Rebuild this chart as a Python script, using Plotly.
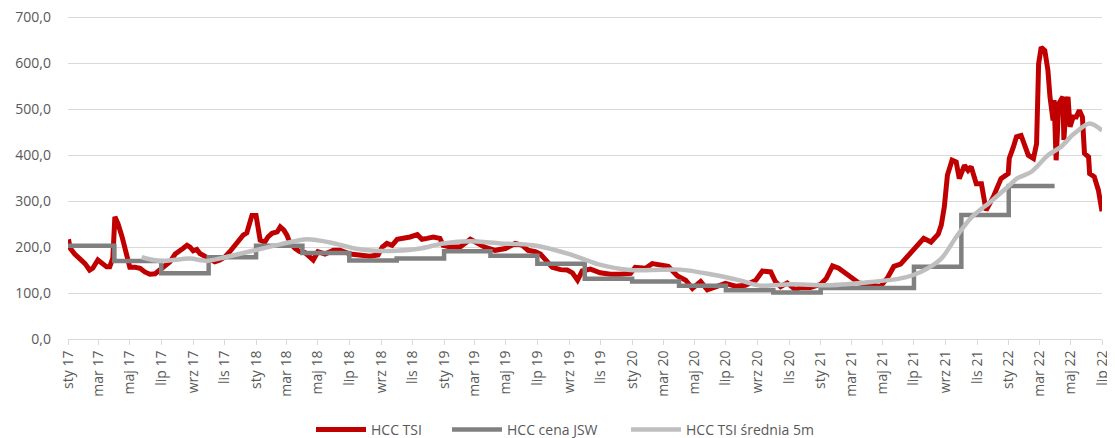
import plotly.graph_objects as go

# ---- HCC TSI (daily index) ----
tsi_dates = [
    "2017-01-02", "2017-01-05", "2017-01-14", "2017-01-24", "2017-02-03", "2017-02-12", "2017-02-18",
    "2017-02-28", "2017-03-10", "2017-03-17", "2017-03-23", "2017-03-29", "2017-04-02", "2017-04-08",
    "2017-04-16", "2017-04-21", "2017-04-27", "2017-05-01", "2017-05-11", "2017-05-21", "2017-05-30",
    "2017-06-09", "2017-06-19", "2017-06-28", "2017-07-08", "2017-07-18", "2017-07-28", "2017-08-02",
    "2017-08-12", "2017-08-20", "2017-08-26", "2017-09-01", "2017-09-08", "2017-09-14", "2017-09-24",
    "2017-10-04", "2017-10-13", "2017-10-23", "2017-11-02", "2017-11-11", "2017-11-21", "2017-12-01",
    "2017-12-07", "2017-12-14", "2017-12-20", "2017-12-24", "2018-01-01", "2018-01-05", "2018-01-09",
    "2018-01-18", "2018-01-24", "2018-02-01", "2018-02-11", "2018-02-17", "2018-02-24", "2018-03-02",
    "2018-03-08", "2018-03-18", "2018-03-27", "2018-04-06", "2018-04-16", "2018-04-22", "2018-05-01",
    "2018-05-15", "2018-05-31", "2018-06-13", "2018-07-03", "2018-07-22", "2018-08-10", "2018-08-26",
    "2018-09-03", "2018-09-12", "2018-09-22", "2018-10-02", "2018-10-14", "2018-10-27", "2018-11-10",
    "2018-11-19", "2018-11-29", "2018-12-11", "2018-12-24", "2018-12-30", "2019-01-13", "2019-02-01",
    "2019-02-21", "2019-03-06", "2019-03-21", "2019-04-10", "2019-04-30", "2019-05-19", "2019-06-02",
    "2019-06-13", "2019-06-27", "2019-07-07", "2019-07-16", "2019-07-30", "2019-08-15", "2019-08-28",
    "2019-09-07", "2019-09-17", "2019-09-26", "2019-10-12", "2019-10-31", "2019-11-20", "2019-12-09",
    "2019-12-29", "2020-01-07", "2020-01-27", "2020-02-09", "2020-02-25", "2020-03-11", "2020-03-29",
    "2020-04-14", "2020-04-27", "2020-05-13", "2020-05-26", "2020-06-11", "2020-06-30", "2020-07-20",
    "2020-08-08", "2020-08-28", "2020-09-10", "2020-09-26", "2020-10-05", "2020-10-15", "2020-10-28",
    "2020-11-13", "2020-11-22", "2020-12-12", "2021-01-01", "2021-01-12", "2021-01-24", "2021-02-05",
    "2021-02-18", "2021-02-28", "2021-03-16", "2021-04-08", "2021-04-27", "2021-05-11", "2021-05-23",
    "2021-06-05", "2021-06-19", "2021-07-01", "2021-07-10", "2021-07-20", "2021-08-03", "2021-08-17",
    "2021-08-23", "2021-08-29", "2021-09-04", "2021-09-13", "2021-09-21", "2021-09-27", "2021-10-07",
    "2021-10-14", "2021-10-20", "2021-10-30", "2021-11-09", "2021-11-18", "2021-12-02", "2021-12-17",
    "2021-12-31", "2022-01-02", "2022-01-10", "2022-01-16", "2022-01-25", "2022-01-31", "2022-02-08",
    "2022-02-18", "2022-02-24", "2022-02-28", "2022-03-05", "2022-03-12", "2022-03-18", "2022-03-22",
    "2022-03-28", "2022-03-30", "2022-04-03", "2022-04-08", "2022-04-16", "2022-04-18", "2022-04-22",
    "2022-04-26", "2022-04-30", "2022-05-06", "2022-05-12", "2022-05-18", "2022-05-24", "2022-05-28",
    "2022-06-05", "2022-06-07", "2022-06-16", "2022-06-24", "2022-06-29", "2022-07-01",
]
tsi_values = [
    217, 198, 185, 175, 164, 150, 154,
    172, 164, 157, 157, 176, 266, 251,
    222, 200, 172, 156, 156, 154, 146,
    141, 142, 151, 161, 168, 185, 188,
    197, 204, 200, 192, 195, 186, 180,
    172, 168, 172, 179, 190, 204, 217,
    226, 231, 251, 269, 269, 244, 215,
    211, 222, 230, 233, 244, 237, 226,
    208, 197, 190, 188, 179, 172, 190,
    185, 193, 193, 185, 183, 180, 183,
    200, 208, 204, 217, 219, 222, 227,
    217, 219, 222, 219, 204, 200, 200,
    217, 208, 200, 193, 197, 208, 204,
    193, 190, 185, 175, 156, 151, 150,
    144, 128, 148, 152, 144, 141, 141,
    143, 156, 154, 164, 161, 158, 137,
    128, 110, 125, 107, 114, 121, 115,
    117, 128, 148, 146, 125, 114, 122,
    107, 112, 112, 119, 132, 159, 154,
    143, 133, 122, 118, 114, 134, 158,
    163, 180, 195, 206, 219, 211, 228,
    248, 288, 357, 389, 385, 349, 378,
    367, 375, 338, 338, 280, 309, 349,
    360, 393, 418, 440, 443, 422, 400,
    393, 425, 599, 635, 628, 585, 527,
    476, 520, 389, 512, 527, 433, 505,
    527, 462, 483, 483, 498, 483, 404,
    396, 360, 353, 324, 295, 278,
]

# ---- HCC cena JSW (quarterly contract price) ----
jsw_dates = [
    "2017-01-01", "2017-04-01", "2017-07-01", "2017-10-01", "2018-01-01", "2018-04-01",
    "2018-07-01", "2018-10-01", "2019-01-01", "2019-04-01", "2019-07-01", "2019-10-01",
    "2020-01-01", "2020-04-01", "2020-07-01", "2020-10-01", "2021-01-01", "2021-04-01",
    "2021-07-01", "2021-10-01", "2022-01-01", "2022-03-31",
]
jsw_values = [
    203, 170, 143, 178, 203, 187,
    171, 175, 191, 181, 164, 131,
    125, 116, 106, 101, 111, 111,
    157, 270, 333, 333,
]

# ---- HCC TSI średnia 5m (5-month moving average) ----
avg_dates = [
    "2017-05-24", "2017-06-28", "2017-08-26", "2017-09-28", "2017-11-02", "2017-12-26",
    "2018-02-17", "2018-04-10", "2018-05-25", "2018-07-12", "2018-08-20", "2018-09-28",
    "2018-11-16", "2018-12-30", "2019-02-21", "2019-04-20", "2019-06-23", "2019-09-03",
    "2019-10-26", "2019-12-29", "2020-02-06", "2020-04-04", "2020-06-01", "2020-07-30",
    "2020-09-06", "2020-11-03", "2021-01-20", "2021-04-08", "2021-06-05", "2021-07-14",
    "2021-08-23", "2021-09-21", "2021-10-20", "2021-11-28", "2021-12-27", "2022-01-18",
    "2022-02-14", "2022-03-18", "2022-04-12", "2022-05-08", "2022-06-07", "2022-07-01",
]
avg_values = [
    178, 170, 175, 170, 178, 192,
    206, 217, 210, 197, 192, 192,
    197, 208, 213, 208, 204, 184,
    163, 150, 150, 151, 141, 127,
    116, 119, 117, 124, 132, 146,
    175, 222, 264, 300, 328, 350,
    364, 400, 418, 447, 469, 454,
]

# ---- axis labels ----
tick_dates = [
    "2017-01-01", "2017-03-01", "2017-05-01", "2017-07-01", "2017-09-01", "2017-11-01",
    "2018-01-01", "2018-03-01", "2018-05-01", "2018-07-01", "2018-09-01", "2018-11-01",
    "2019-01-01", "2019-03-01", "2019-05-01", "2019-07-01", "2019-09-01", "2019-11-01",
    "2020-01-01", "2020-03-01", "2020-05-01", "2020-07-01", "2020-09-01", "2020-11-01",
    "2021-01-01", "2021-03-01", "2021-05-01", "2021-07-01", "2021-09-01", "2021-11-01",
    "2022-01-01", "2022-03-01", "2022-05-01", "2022-07-01",
]
tick_labels = [
    "sty 17", "mar 17", "maj 17", "lip 17", "wrz 17", "lis 17",
    "sty 18", "mar 18", "maj 18", "lip 18", "wrz 18", "lis 18",
    "sty 19", "mar 19", "maj 19", "lip 19", "wrz 19", "lis 19",
    "sty 20", "mar 20", "maj 20", "lip 20", "wrz 20", "lis 20",
    "sty 21", "mar 21", "maj 21", "lip 21", "wrz 21", "lis 21",
    "sty 22", "mar 22", "maj 22", "lip 22",
]
y_ticks = [0, 100, 200, 300, 400, 500, 600, 700]

TEXT = "#595959"
FONT = "Open Sans"
FS = 14
W, H = 1107, 430   # page body keeps an 8 px margin, so the figure sits at (8, 8)

fig = go.Figure()
fig.add_trace(go.Scatter(x=tsi_dates, y=tsi_values, mode="lines", name="HCC TSI",
                         legend="legend",
                         line=dict(color="#C00000", width=5, shape="linear")))
fig.add_trace(go.Scatter(x=jsw_dates, y=jsw_values, mode="lines", name="HCC cena JSW",
                         legend="legend2",
                         line=dict(color="#808080", width=4.5, shape="hv")))
fig.add_trace(go.Scatter(x=avg_dates, y=avg_values, mode="lines", name="HCC TSI średnia 5m",
                         legend="legend3",
                         line=dict(color="#BFBFBF", width=4.5, shape="spline", smoothing=0.8)))

def leg(xpx):
    return dict(orientation="h", xref="container", yref="container",
                x=xpx / W, xanchor="left", y=1 - 422 / H, yanchor="middle",
                font=dict(family=FONT, size=FS, color=TEXT), itemwidth=50,
                bgcolor="rgba(0,0,0,0)", borderwidth=0)

fig.update_layout(
    width=W, height=H,
    margin=dict(l=60, r=13, t=8, b=99, autoexpand=False),
    paper_bgcolor="white", plot_bgcolor="white",
    separators=", ",
    font=dict(family=FONT, size=FS, color=TEXT),
    showlegend=True,
    legend=leg(303),
    legend2=leg(439),
    legend3=leg(618),
)
fig.update_xaxes(
    type="date", range=["2017-01-01", "2022-07-01"], automargin=False,
    tickmode="array", tickvals=tick_dates, ticktext=tick_labels, tickangle=-90,
    showgrid=False, showline=True, linecolor="#D9D9D9", linewidth=1,
    ticks="outside", ticklen=5, tickcolor="#D9D9D9", ticklabeloverflow="allow",
    tickfont=dict(family=FONT, size=FS, color=TEXT), zeroline=False,
)
fig.update_yaxes(
    range=[0, 703], tickmode="array", tickvals=y_ticks,
    tickformat=".1f", automargin=False, ticklabeloverflow="allow",
    showgrid=True, gridcolor="#D9D9D9", gridwidth=1, zeroline=False,
    showline=False, ticks="", ticklabelstandoff=16,
    tickfont=dict(family=FONT, size=FS, color=TEXT),
)

fig.write_html("out.html")
